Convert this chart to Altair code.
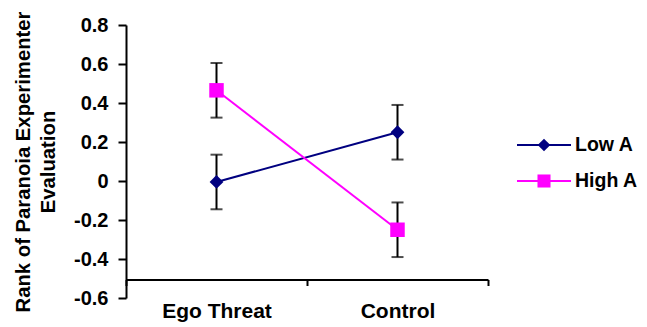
import altair as alt
import pandas as pd

categories = ["Ego Threat", "Control"]
series = ["Low A", "High A"]
low_a = [-0.005, 0.25]
high_a = [0.465, -0.25]
low_a_err = [0.14, 0.14]
high_a_err = [0.14, 0.14]
colors = ["#000080", "#FF00FF"]
shapes = ["diamond", "square"]
y_ticks = [-0.6, -0.4, -0.2, 0, 0.2, 0.4, 0.6, 0.8]
y_title = ["Rank of Paranoia Experimenter", "Evaluation"]

rows = []
for s, vals, errs in [(series[0], low_a, low_a_err), (series[1], high_a, high_a_err)]:
    for i, (c, v, e) in enumerate(zip(categories, vals, errs)):
        rows.append({"series": s, "category": c, "pos": i + 1, "value": v,
                     "lo": v - e, "hi": v + e})
df = pd.DataFrame(rows)

FONT = "Liberation Sans"
FS = 20

x_label_expr = " : ".join(
    [f"datum.value == {i + 1} ? '{c}'" for i, c in enumerate(categories)]) + " : ''"
x_scale = alt.Scale(domain=[0.5, 2.5], nice=False, zero=False)
x_axis = alt.Axis(
    title=None, values=[0.5, 1, 1.5, 2, 2.5], labelExpr=x_label_expr,
    offset=-18.5, tickSize=6, tickWidth=2, domainWidth=2, labelPadding=15,
    labelOverlap=False, labelFlush=False, grid=False, labelFontSize=21,
    tickOpacity={"condition": {"test": "datum.value == 1 || datum.value == 2", "value": 0}, "value": 1},
)
y_scale = alt.Scale(domain=[-0.6, 0.8], nice=False, zero=False)
y_axis = alt.Axis(
    title=y_title, values=y_ticks,
    labelExpr="(datum.value < 0 ? '-' : '') + (datum.value == 0 ? '0' : format(abs(datum.value), '.1f'))",
    tickSize=8, tickWidth=2, domainWidth=2, labelPadding=10, grid=False,
    titlePadding=15, titleLineHeight=25, titleFontSize=20.3,
)


def X(field):
    return alt.X(field, type="quantitative", scale=x_scale, axis=x_axis)


def Y(field):
    return alt.Y(field, type="quantitative", scale=y_scale, axis=y_axis)


base = alt.Chart(df)

err_rule = base.mark_rule(color="black", strokeWidth=2).encode(
    x=X("pos"), y=Y("lo"), y2="hi")
cap_lo = base.mark_tick(orient="horizontal", size=12, thickness=2, color="black").encode(
    x=X("pos"), y=Y("lo"))
cap_hi = base.mark_tick(orient="horizontal", size=12, thickness=2, color="black").encode(
    x=X("pos"), y=Y("hi"))

layers = [err_rule, cap_lo, cap_hi]
for s, col in zip(series, colors):
    layers.append(base.transform_filter(alt.datum.series == s).mark_line(
        color=col, strokeWidth=2).encode(x=X("pos"), y=Y("value")))
for s, col, shp in zip(series, colors, shapes):
    size = 190 if shp == "diamond" else 210
    layers.append(base.transform_filter(alt.datum.series == s).mark_point(
        shape=shp, filled=True, color=col, size=size, opacity=1).encode(
        x=X("pos"), y=Y("value")))

# legend
for i, (s, col, shp) in enumerate(zip(series, colors, shapes)):
    ld = pd.DataFrame({"series": [s]})
    yy = 120 + 36 * i
    size = 160 if shp == "diamond" else 170
    layers.append(alt.Chart(ld).mark_rule(color=col, strokeWidth=2).encode(
        x=alt.value(391), x2=alt.value(445), y=alt.value(yy)))
    layers.append(alt.Chart(ld).mark_point(shape=shp, filled=True, color=col, size=size, opacity=1).encode(
        x=alt.value(418), y=alt.value(yy)))
    layers.append(alt.Chart(ld).mark_text(align="left", baseline="middle", font=FONT,
                                          fontSize=19.5, fontWeight="bold", color="black").encode(
        x=alt.value(449), y=alt.value(yy), text="series:N"))

chart = alt.layer(*layers).properties(
    width=362, height=273,
    autosize=alt.AutoSizeParams(type="none"),
    padding={"left": 118, "top": 17, "right": 151, "bottom": 24},
).configure_view(stroke=None).configure_axis(
    domainColor="black", tickColor="black",
    labelFont=FONT, labelFontSize=FS, labelFontWeight="bold", labelColor="black",
    titleFont=FONT, titleFontSize=FS, titleFontWeight="bold", titleColor="black",
)

chart.save("out.html", embed_options={"renderer": "svg", "actions": False})
